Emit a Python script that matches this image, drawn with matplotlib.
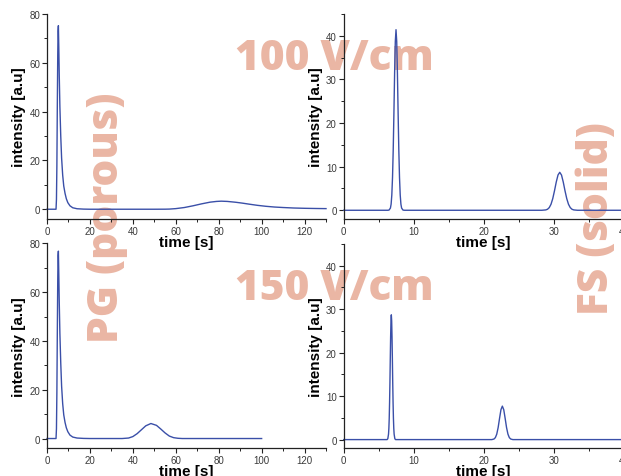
import matplotlib
matplotlib.use("Agg")
import matplotlib.pyplot as plt
from matplotlib.ticker import MultipleLocator

# ---- data ----
# top-left: PG (porous), 100 V/cm
t_pg100 = [0, 4.2, 4.4, 4.6, 4.8, 5.0, 5.15, 5.3, 5.5, 5.7, 6.0, 6.4, 6.8, 7.3, 7.8, 8.4, 9.0, 9.7,
           10.7, 12, 14, 17, 20, 30, 40, 50, 55, 57, 60, 64, 68, 72, 76, 79, 81.2, 84, 88, 91, 94.4,
           98, 102, 106, 110, 115, 120, 125.4, 130]
y_pg100 = [0, 0, 4, 18, 42, 63, 73, 75.2, 66, 55, 42, 30, 21, 14, 9.5, 6.5, 4.3, 2.7,
           1.4, 0.6, 0.2, 0.05, 0, 0, 0, 0, 0.02, 0.06, 0.25, 0.7, 1.4, 2.2, 2.9, 3.2, 3.3, 3.2, 2.85, 2.5, 2.05,
           1.6, 1.2, 0.9, 0.7, 0.5, 0.38, 0.3, 0.25]

# top-right: FS (solid), 100 V/cm
t_fs100 = [0, 6.3, 6.47, 6.67, 6.77, 6.87, 6.97, 7.07, 7.17, 7.27, 7.37, 7.47, 7.57, 7.67, 7.77, 7.87,
           7.97, 8.07, 8.17, 8.27, 8.47, 8.7, 28.3, 28.86, 29.11, 29.36, 29.61, 29.86, 30.11, 30.36,
           30.61, 30.86, 31.11, 31.36, 31.61, 31.86, 32.11, 32.36, 32.61, 32.86, 33.4, 42]
y_fs100 = [0, 0, 0.04, 0.5, 1.4, 3.5, 7.5, 13.8, 22.3, 31.5, 38.7, 41.4, 38.7, 31.5, 22.3, 13.8,
           7.5, 3.5, 1.4, 0.5, 0.04, 0, 0, 0.08, 0.23, 0.61, 1.37, 2.67, 4.47, 6.47,
           8.08, 8.7, 8.08, 6.47, 4.47, 2.67, 1.37, 0.61, 0.23, 0.08, 0, 0]

# bottom-left: PG (porous), 150 V/cm
t_pg150 = [0, 4.2, 4.4, 4.6, 4.8, 5.0, 5.15, 5.3, 5.5, 5.7, 6.0, 6.4, 6.8, 7.3, 7.8, 8.4, 9.0, 9.7,
           10.7, 12, 14, 17, 20, 30, 35, 38, 40, 42, 44, 46, 48.4, 51, 53, 55, 57, 59, 61, 63, 100]
y_pg150 = [0, 0, 4, 19, 43, 65, 75, 76.8, 67, 56, 43, 31, 21.5, 14.3, 9.7, 6.6, 4.4, 2.8,
           1.4, 0.6, 0.2, 0.05, 0, 0, 0, 0.2, 0.8, 2.0, 3.6, 5.2, 6.15, 5.4, 3.9, 2.3, 1.0, 0.35, 0.1, 0, 0]

# bottom-right: FS (solid), 150 V/cm
t_fs150 = [0, 6.2, 6.3, 6.4, 6.45, 6.5, 6.55, 6.6, 6.65, 6.7, 6.75, 6.8, 6.85, 6.9, 6.95, 7.0, 7.05,
           7.1, 7.15, 7.2, 7.3, 7.4, 21.16, 21.46, 21.66, 21.86, 22.06, 22.26, 22.46, 22.66, 22.86,
           23.06, 23.26, 23.46, 23.66, 23.86, 24.16, 42]
y_fs150 = [0, 0, 0.22, 1.26, 2.6, 4.9, 8.5, 13.1, 18.5, 23.6, 27.3, 28.7, 27.3, 23.6, 18.5, 13.1, 8.5,
           4.9, 2.6, 1.26, 0.22, 0, 0, 0.13, 0.45, 1.25, 2.77, 4.89, 6.88, 7.7, 6.88,
           4.89, 2.77, 1.25, 0.45, 0.13, 0, 0]

xlabel = "time [s]"
ylabel = "intensity [a.u]"

LINE = "#3a4fa8"
WM = "#EAB6A4"
TXT = "#3a3a3a"

fig = plt.figure(figsize=(6.21, 4.77), dpi=100)

def make_ax(rect, t, y, xlim, ylim, xmaj, xmin, ymaj, ymin):
    ax = fig.add_axes(rect)
    ax.patch.set_alpha(0)
    ax.plot(t, y, color=LINE, lw=1.0, clip_on=False)
    ax.set_xlim(*xlim)
    ax.set_ylim(*ylim)
    for s in ("top", "right"):
        ax.spines[s].set_visible(False)
    for s in ("left", "bottom"):
        ax.spines[s].set_color("#222222")
        ax.spines[s].set_linewidth(0.9)
    ax.xaxis.set_major_locator(MultipleLocator(xmaj))
    ax.xaxis.set_minor_locator(MultipleLocator(xmin))
    ax.yaxis.set_major_locator(MultipleLocator(ymaj))
    ax.yaxis.set_minor_locator(MultipleLocator(ymin))
    ax.tick_params(which="major", direction="out", length=3.5, width=0.8,
                   labelsize=7, labelcolor=TXT, color="#222222", pad=1.5)
    ax.tick_params(which="minor", direction="out", length=2, width=0.7, color="#222222")
    ax.set_xlabel(xlabel, fontsize=11, fontweight="bold", family="Liberation Sans", labelpad=-1)
    ax.set_ylabel(ylabel, fontsize=11, fontweight="bold", family="Liberation Sans", labelpad=2)
    for lab in ax.get_xticklabels() + ax.get_yticklabels():
        lab.set_family("Liberation Sans")
    return ax

make_ax([0.0757, 0.5388, 0.4493, 0.4298], t_pg100, y_pg100, (0, 130), (-4, 80), 20, 10, 20, 10)
make_ax([0.5535, 0.5388, 0.4509, 0.4298], t_fs100, y_fs100, (0, 40), (-2, 45), 10, 5, 10, 5)
make_ax([0.0757, 0.0581, 0.4493, 0.4297], t_pg150, y_pg150, (0, 130), (-4, 80), 20, 10, 20, 10)
make_ax([0.5535, 0.0581, 0.4509, 0.4283], t_fs150, y_fs150, (0, 40), (-2, 45), 10, 5, 10, 5)

wm = dict(color=WM, fontsize=30.5, fontweight="heavy", family="Open Sans",
          ha="center", va="center", zorder=-1)
fig.text(334 / 621, 1 - 59 / 477, "100 V/cm", **wm)
fig.text(334 / 621, 1 - 289 / 477, "150 V/cm", **wm)
fig.text(107 / 621, 1 - 218 / 477, "PG (porous)", rotation=90, **wm)
fig.text(597 / 621, 1 - 219 / 477, "FS (solid)", rotation=90, **wm)

fig.savefig("out.png", dpi=100)
